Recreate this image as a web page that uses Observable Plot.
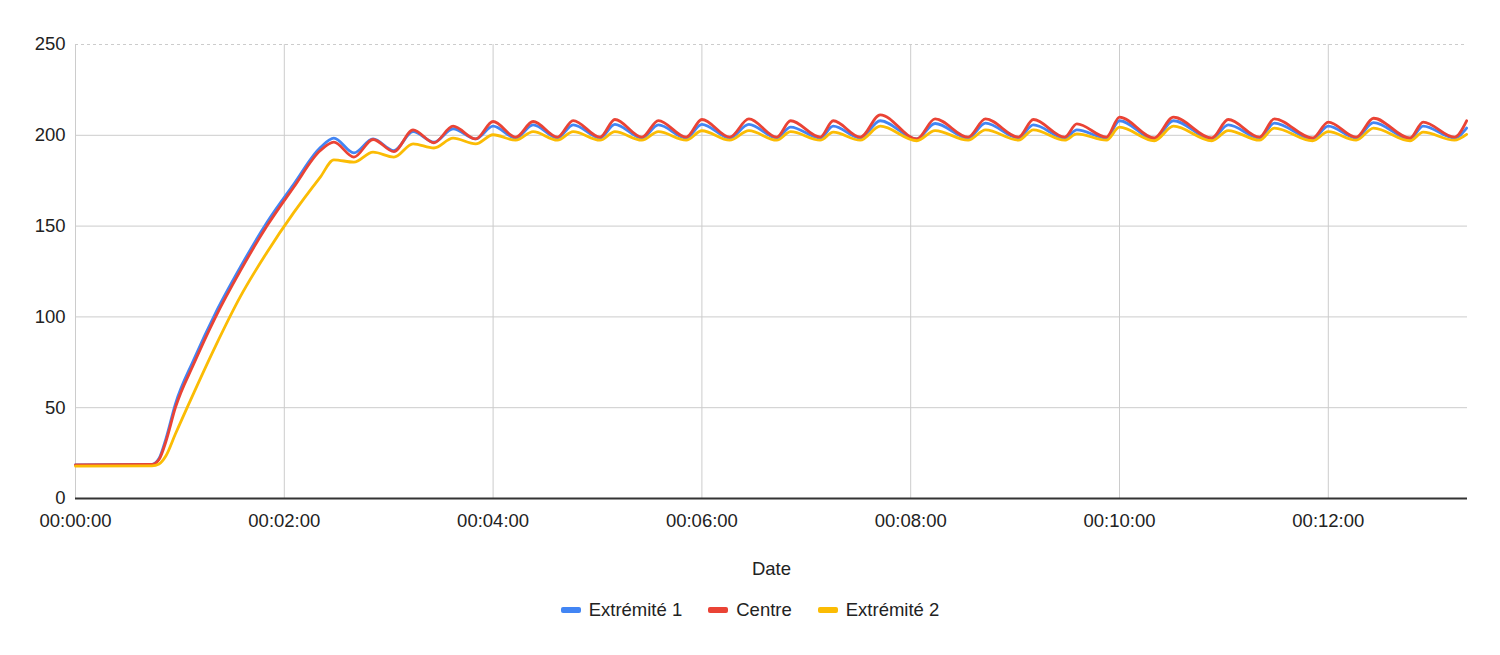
<!DOCTYPE html>
<html>
<head>
<meta charset="utf-8">
<script src="https://cdn.jsdelivr.net/npm/d3@7"></script>
<script src="https://cdn.jsdelivr.net/npm/@observablehq/plot@0.6"></script>
<style>
  body { margin: 0; background: #fff; font-family: "Liberation Sans", Arial, sans-serif; }
  #legend { display: flex; justify-content: center; gap: 26px; font-size: 18.5px; line-height: 22px; color: #222; margin-top: 9px; padding-left: 0px; }
  .item { display: flex; align-items: center; gap: 8px; }
  .sw { width: 20px; height: 6px; border-radius: 2px; }
</style>
</head>
<body>
<div id="chart"></div>
<div id="legend"></div>
<script>
// Time in seconds since start
const times = [0,44,48,52,57.4,68,80.4,94.8,110,125.4,140.7,148.5,160,171,183,194,206,217,230,240,253,263,277,286,301.5,310,325.5,335,351,360,376,387,403,411,428,435.5,451,462.5,483.5,494,513,523,542,550.5,568.5,575.5,592.5,600,620,631,653,662.5,680.5,689,711,720,736,746,767,774.5,792.5,799.5];

const extremite1 = [18.5,18.8,22,33,52,76.5,102,127.5,152,173,193.2,198.4,190.3,198,191.6,202,196.2,203.6,198,205,198.5,205.7,198.5,205.7,198.5,206,198.5,205.7,198.5,206,198.5,206,198.5,204.5,198.5,205,198.5,208,198,206.5,198.5,206.7,198.5,205.7,198.5,203,198.5,208,198,208,198,205.7,198.5,206.7,198,205,198.5,207,198,205,198.5,204];

const centre = [18.5,18.8,21.5,31.5,50,74.2,99.8,125.5,150,171.4,191.6,196.2,188,197.7,191,203,195.9,205,198,207.6,199,207.6,199,208.1,199,208.7,199,208.1,199,208.7,199,209,199,208,199,208,199,211.3,198,209,199,209,199,208.7,199,206.3,199,210,198.5,210,198.5,208.7,199,209,198.5,207.3,199,209.4,198.5,207.3,199,208];

const extremite2 = [17.8,18,19,23.5,35.5,58.2,83.8,111.3,135.5,157.4,177,186.5,185.2,190.7,188,195.3,193,198.4,195.3,200.3,197.3,202,197.3,202,197.3,202,197.3,202,197.3,202.5,197.3,202.6,197.3,202,197.3,201.7,197.3,205,197,202.6,197.3,203,197.3,203,197.3,200.8,197.3,204.5,197,205,197,202.6,197.3,204,197,202,197.3,204,197,201.7,197.3,200.5];

const seriesNames = ["Extrémité 1", "Centre", "Extrémité 2"];
const seriesColors = ["#4285F4", "#EA4335", "#FBBC04"];
const yTicks = [0, 50, 100, 150, 200, 250];
const xTicks = [0, 120, 240, 360, 480, 600, 720];

const seriesValues = [extremite1, centre, extremite2];
const data = [];
seriesNames.forEach((name, s) => {
  times.forEach((t, i) => data.push({ series: name, t, v: seriesValues[s][i] }));
});

const fmt = s => {
  const h = Math.floor(s / 3600), m = Math.floor((s % 3600) / 60), sec = Math.round(s % 60);
  return [h, m, sec].map(d => String(d).padStart(2, "0")).join(":");
};

const chart = Plot.plot({
  width: 1500,
  height: 590,
  marginLeft: 75,
  marginRight: 33,
  marginTop: 44,
  marginBottom: 92,
  style: { fontFamily: "'Liberation Sans', Arial, sans-serif", fontSize: "18.5px", color: "#222", background: "#fff" },
  x: { domain: [0, 800] },
  y: { domain: [0, 250] },
  color: { domain: seriesNames, range: seriesColors },
  marks: [
    Plot.ruleY(yTicks.filter(d => d > 0 && d < 250), { stroke: "#cccccc", strokeWidth: 1 }),
    Plot.ruleY([250], { stroke: "#cccccc", strokeWidth: 1, strokeDasharray: "3,3" }),
    Plot.ruleX(xTicks, { stroke: "#cccccc", strokeWidth: 1 }),
    Plot.axisY({ ticks: yTicks, tickSize: 0, tickPadding: 10, label: null }),
    Plot.axisX({ ticks: xTicks, tickSize: 0, tickPadding: 15, tickFormat: fmt, label: "Date", labelAnchor: "center", labelArrow: "none", labelOffset: 76 }),
    Plot.line(data, { x: "t", y: "v", z: "series", stroke: "series", strokeWidth: 2.8, curve: "monotone-x" }),
    Plot.ruleY([0], { stroke: "#333333", strokeWidth: 2 })
  ]
});
document.getElementById("chart").appendChild(chart);

const legend = document.getElementById("legend");
seriesNames.forEach((name, i) => {
  const item = document.createElement("div");
  item.className = "item";
  const sw = document.createElement("div");
  sw.className = "sw";
  sw.style.background = seriesColors[i];
  const label = document.createElement("span");
  label.textContent = name;
  item.appendChild(sw);
  item.appendChild(label);
  legend.appendChild(item);
});
</script>
</body>
</html>
